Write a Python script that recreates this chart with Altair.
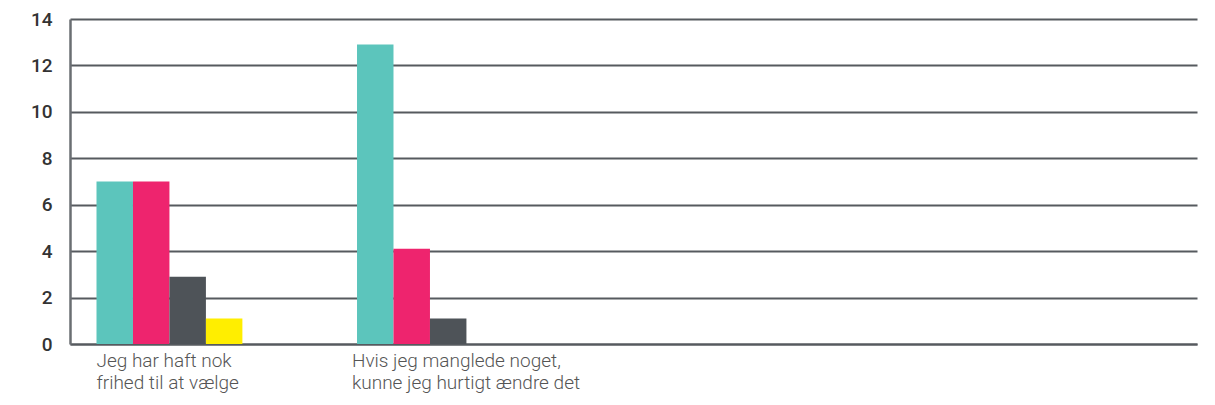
import json
import altair as alt
import pandas as pd

categories = [
    "Jeg har haft nok frihed til at vælge",
    "Hvis jeg manglede noget, kunne jeg hurtigt ændre det",
]
label_lines = [
    ["Jeg har haft nok", "frihed til at vælge"],
    ["Hvis jeg manglede noget,", "kunne jeg hurtigt ændre det"],
]
series = ["Serie 1", "Serie 2", "Serie 3", "Serie 4"]
colors = ["#5CC5BC", "#EE246E", "#4E5358", "#FFEE00"]
values_s1 = [7.0, 12.9]
values_s2 = [7.0, 4.1]
values_s3 = [2.9, 1.1]
values_s4 = [1.1, None]
y_ticks = [0, 2, 4, 6, 8, 10, 12, 14]

rows = []
for s, vals in zip(series, [values_s1, values_s2, values_s3, values_s4]):
    for c, v in zip(categories, vals):
        if v is not None:
            rows.append({"kategori": c, "serie": s, "værdi": v})
df = pd.DataFrame(rows)

# empty slot on the right keeps the reference's free space
x_domain = categories + [" "]

expr = "''"
for c, lines in reversed(list(zip(categories, label_lines))):
    expr = f"datum.value == {json.dumps(c)} ? {json.dumps(lines)} : {expr}"

grey = "#565a5f"

chart = (
    alt.Chart(df)
    .mark_bar()
    .encode(
        x=alt.X(
            "kategori:N",
            sort=x_domain,
            scale=alt.Scale(
                domain=x_domain,
                paddingInner=0.44,
                paddingOuter=0.883,
                align=0.0576,
            ),
            axis=alt.Axis(
                title=None,
                labelAlign="left",
                labelAngle=0,
                labelExpr=expr,
                labelLineHeight=22,
                labelFont="Roboto",
                labelFontSize=19,
                labelFontWeight=300,
                labelColor="#555555",
                labelPadding=7,
                labelLimit=400,
                labelOffset={
                    "condition": {
                        "test": f"datum.value == {json.dumps(categories[1])}",
                        "value": -78,
                    },
                    "value": -73,
                },
                ticks=False,
                tickSize=0,
                grid=False,
                domainColor=grey,
                domainWidth=2,
            ),
        ),
        xOffset=alt.XOffset(
            "serie:N",
            sort=series,
            scale=alt.Scale(domain=series, paddingInner=0, paddingOuter=0),
        ),
        y=alt.Y(
            "værdi:Q",
            scale=alt.Scale(domain=[0, 14], nice=False),
            axis=alt.Axis(
                title=None,
                values=y_ticks,
                labelFont="Roboto",
                labelFontSize=19,
                labelFontWeight=500,
                labelColor="#333333",
                labelPadding=18,
                ticks=False,
                tickSize=0,
                grid=True,
                gridColor=grey,
                gridWidth=2,
                domainColor="#6a6e72",
                domainWidth=2.5,
            ),
        ),
        color=alt.Color(
            "serie:N",
            scale=alt.Scale(domain=series, range=colors),
            legend=None,
        ),
    )
    .properties(
        width=1127,
        height=325,
        autosize=alt.AutoSizeParams(type="none"),
        padding={"left": 62, "top": 11, "right": 10, "bottom": 53},
    )
    .configure_view(stroke=None)
)

chart.save("out.html", embed_options={"renderer": "svg", "actions": False})
